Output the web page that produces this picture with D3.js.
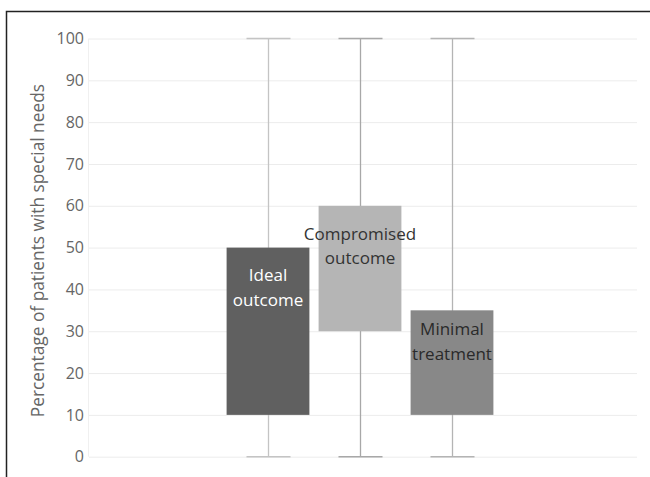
<!DOCTYPE html>
<html><head><meta charset="utf-8">
<script src="https://cdn.jsdelivr.net/npm/d3@7"></script>
<style>body{margin:0;background:#fff}svg{display:block}</style>
</head><body>
<svg id="c" width="650" height="477"></svg>
<script>
const categories = ["Ideal outcome", "Compromised outcome", "Minimal treatment"];
const labelLines = [["Ideal", "outcome"], ["Compromised", "outcome"], ["Minimal", "treatment"]];
const q1 = [10, 30, 10];
const q3 = [50, 60, 35];
const mins = [0, 0, 0];
const maxs = [100, 100, 100];
const yTicks = [0, 10, 20, 30, 40, 50, 60, 70, 80, 90, 100];
const boxColors = ["#606060", "#b5b5b5", "#888888"];
const whiskerColors = ["#c4c4c4", "#a8a8a8", "#b4b4b4"];
const textColors = ["#ffffff", "#333333", "#2a2a2a"];

const svg = d3.select("#c");
const font = "'Open Sans', sans-serif";

// frame
svg.append("path").attr("d", "M6.5,477 L6.5,11.5 L650,11.5")
  .attr("fill", "none").attr("stroke", "#222").attr("stroke-width", 1.5);

const y = d3.scaleLinear().domain([0, 100]).range([456.7, 38.5]);
const x = d3.scaleBand().domain(categories).range([222, 498]).padding(0);
const bw = x.bandwidth() * 0.9;
const cx = c => x(c) + x.bandwidth() / 2;

// gridlines
svg.append("g").selectAll("line").data(yTicks).join("line")
  .attr("x1", 89).attr("x2", 637)
  .attr("y1", d => y(d) + 0.5).attr("y2", d => y(d) + 0.5)
  .attr("stroke", "#ececec").attr("stroke-width", 1);
svg.append("line").attr("x1", 88.5).attr("x2", 88.5).attr("y1", y(100)).attr("y2", y(0))
  .attr("stroke", "#f0f0f0");

// y axis labels
const yAxis = d3.axisLeft(y).tickValues(yTicks).tickSize(0).tickPadding(0);
const ga = svg.append("g").attr("transform", "translate(84,0)").call(yAxis);
ga.select(".domain").remove();
ga.selectAll("text").attr("font-family", font).attr("font-size", 16).attr("fill", "#666");

// axis title
svg.append("text").attr("transform", `translate(44,${y(50) + 3}) rotate(-90)`)
  .attr("text-anchor", "middle").attr("font-family", font).attr("font-size", 17.3)
  .attr("fill", "#666").text("Percentage of patients with special needs");

// whiskers and caps
const g = svg.append("g");
categories.forEach((c, i) => {
  const xc = Math.round(cx(c)) + 0.5;
  g.append("line").attr("x1", xc).attr("x2", xc).attr("y1", y(mins[i])).attr("y2", y(maxs[i]))
    .attr("stroke", whiskerColors[i]).attr("stroke-width", 1.3);
  [mins[i], maxs[i]].forEach(v => {
    g.append("line").attr("x1", xc - 22).attr("x2", xc + 22).attr("y1", y(v)).attr("y2", y(v))
      .attr("stroke", whiskerColors[i]).attr("stroke-width", 1.5);
  });
});

// boxes
g.selectAll("rect.box").data(categories).join("rect").attr("class", "box")
  .attr("x", c => cx(c) - bw / 2).attr("width", bw)
  .attr("y", (c, i) => y(q3[i])).attr("height", (c, i) => y(q1[i]) - y(q3[i]))
  .attr("fill", (c, i) => boxColors[i]);

// labels (baseline of first line, in data units)
const labelBase = [42.0, 51.9, 29.1];
categories.forEach((c, i) => {
  const t = g.append("text").attr("text-anchor", "middle").attr("font-family", font)
    .attr("font-size", 17).attr("fill", textColors[i]);
  labelLines[i].forEach((ln, k) => {
    t.append("tspan").attr("x", cx(c)).attr("y", y(labelBase[i]) + k * 24.5).text(ln);
  });
});
</script>
</body></html>
